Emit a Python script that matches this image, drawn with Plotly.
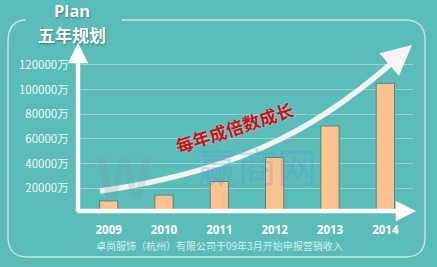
import plotly.graph_objects as go

years = ["2009", "2010", "2011", "2012", "2013", "2014"]
bar_values = [9800, 14500, 25500, 45000, 70500, 105000]
plan_labels = ["3455万", "10500万", "22000万", "44000万", "72000万", "102000万"]
label_shift = [-2, -1, -5, -13, -2, -3]
y_ticks = [20000, 40000, 60000, 80000, 100000, 120000]
y_tick_text = [f"{v}万" for v in y_ticks]

W, H = 437, 267
L, R, T, B = 81, 24, 45, 54
PW, PH = W - L - R, H - T - B

def px(x):
    return (x - L) / PW

def py(y):
    return (H - B - y) / PH

BG = "#5bbcba"
fig = go.Figure()
fig.add_trace(go.Bar(
    x=years, y=bar_values, width=0.33,
    marker=dict(color="#fdc28d", line=dict(color="#4f8584", width=1)),
    hoverinfo="skip",
))

shapes = []
frame = (f"M {px(122)},{py(20)} L {px(405)},{py(20)} Q {px(425)},{py(20)} {px(425)},{py(40)} "
         f"L {px(425)},{py(237)} Q {px(425)},{py(257)} {px(405)},{py(257)} "
         f"L {px(28)},{py(257)} Q {px(8)},{py(257)} {px(8)},{py(237)} "
         f"L {px(8)},{py(42)} Q {px(8)},{py(20)} {px(26)},{py(20)}")
shapes.append(dict(type="path", path=frame, xref="paper", yref="paper",
                   line=dict(color="rgba(235,250,250,0.75)", width=1.3), layer="below"))
curve = (f"M {px(100)},{py(191)} C {px(250)},{py(170)} {px(330)},{py(120)} {px(404)},{py(52)}")
shapes.append(dict(type="path", path=curve, xref="paper", yref="paper",
                   line=dict(color="rgba(250,246,248,0.95)", width=5.5), layer="above"))

def note(x, y, text, font, **kw):
    d = dict(x=px(x), y=py(y), xref="paper", yref="paper", text=text, showarrow=False,
             xanchor="center", yanchor="middle", font=font, borderpad=0)
    d.update(kw)
    return d

annotations = []
annotations.append(dict(x=px(78), y=py(43), xref="paper", yref="paper", ax=0, ay=170,
                        showarrow=True, arrowhead=2, arrowsize=0.9, arrowwidth=4.5,
                        arrowcolor="white", text=""))
annotations.append(dict(x=px(416), y=py(211), xref="paper", yref="paper", ax=-340, ay=0,
                        showarrow=True, arrowhead=2, arrowsize=0.9, arrowwidth=4.5,
                        arrowcolor="white", text=""))
annotations.append(dict(x=px(412), y=py(45), xref="paper", yref="paper", ax=-14, ay=12,
                        showarrow=True, arrowhead=2, arrowsize=1.0, arrowwidth=6,
                        arrowcolor="rgba(250,246,248,0.98)", text=""))
for yr, lab, sh in zip(years, plan_labels, label_shift):
    annotations.append(dict(x=yr, y=py(58), xref="x", yref="paper", text=lab, showarrow=False,
                            xanchor="center", yanchor="middle", xshift=sh,
                            font=dict(size=11, color="#f6d3a3", family="Open Sans", weight="bold")))
annotations.append(note(72, 10, "Plan", dict(size=16.5, color="white", family="Open Sans", weight="bold",
                                              shadow="1px 1px 2px rgba(0,0,0,0.35)")))
annotations.append(note(72, 34, "五年规划", dict(size=17, color="white", family="Noto Sans CJK SC",
                                             weight="bold", shadow="1px 1px 2px rgba(0,0,0,0.35)")))
annotations.append(note(124, 175, "W", dict(size=58, color="rgba(120,150,170,0.2)", family="Open Sans",
                                            weight="bold")))
annotations.append(note(257, 165, "赢商网", dict(size=40, color="rgba(90,140,210,0.26)",
                                              family="Noto Sans CJK SC")))
annotations.append(note(234, 127, "每年成倍数成长", dict(size=17.5, color="#c8101a", family="Noto Sans CJK SC",
                                                 weight="bold", shadow="0px 0px 2px rgba(255,255,255,0.6)"),
                        textangle=-18))
annotations.append(note(219, 245, "卓尚服饰（杭州）有限公司于09年3月开始申报营销收入",
                        dict(size=10, color="#d6eeee", family="Noto Sans CJK SC")))

fig.update_layout(
    width=W, height=H, margin=dict(l=L, r=R, t=T, b=B),
    paper_bgcolor=BG, plot_bgcolor=BG, showlegend=False,
    shapes=shapes, annotations=annotations, bargap=0.5,
    xaxis=dict(range=[-0.5, 5.5], showgrid=False, zeroline=False, showline=False,
               ticks="outside", ticklen=6, tickcolor="rgba(0,0,0,0)",
               tickfont=dict(size=11.5, color="white", family="Open Sans", weight="bold")),
    yaxis=dict(range=[0, 136000], tickvals=y_ticks, ticktext=y_tick_text,
               showgrid=True, gridcolor="rgba(255,255,255,0.35)", gridwidth=1,
               zeroline=False, showline=False, ticks="outside", ticklen=9,
               tickcolor="rgba(0,0,0,0)",
               tickfont=dict(size=11.5, color="#eef8f8", family="Noto Sans CJK SC")),
)
fig.write_html("out.html")
